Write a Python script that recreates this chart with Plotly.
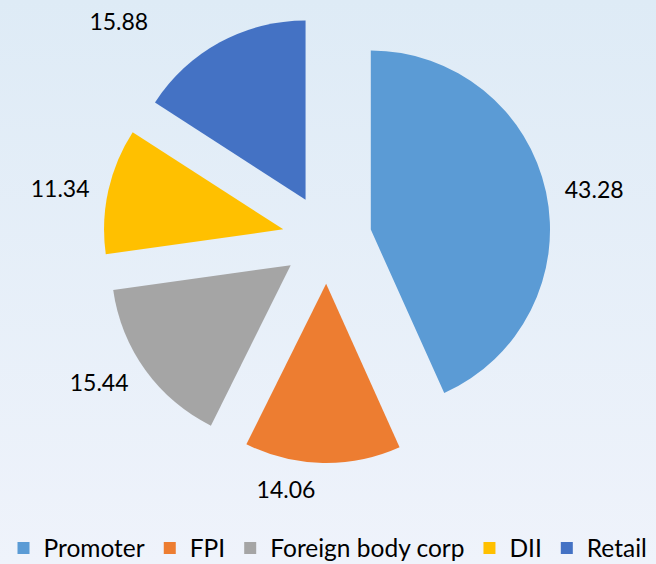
import base64
import plotly.graph_objects as go

categories = ["Promoter", "FPI", "Foreign body corp", "DII", "Retail"]
values = [43.28, 14.06, 15.44, 11.34, 15.88]
colors = ["#5B9BD5", "#ED7D31", "#A5A5A5", "#FFC000", "#4472C4"]
text_labels = ["43.28", "14.06", "15.44", "11.34", "15.88"]

W, H = 656, 564
FONT = "Lato, Open Sans, sans-serif"

# pie centre / radii in pixels (layout only)
CX, CY = 327, 239
HALF_MAIN = 224     # radius*(1+pull) for the drawn pie
HALF_LABEL = 236    # radius of the invisible label carrier

# trailing non-breaking spaces nudge the Retail label leftwards, like the original
label_pad = ["", "", "", "", "\u00a0" * 10]
shown_text = [t + p for t, p in zip(text_labels, label_pad)]


def dom(half):
    return dict(x=[(CX - half) / W, (CX + half) / W],
                y=[1 - (CY + half) / H, 1 - (CY - half) / H])


fig = go.Figure()
fig.add_trace(go.Pie(
    labels=categories,
    values=values,
    textinfo="none",
    sort=False,
    direction="clockwise",
    rotation=0,
    pull=[0.25] * len(values),
    marker=dict(colors=colors, line=dict(width=0)),
    domain=dom(HALF_MAIN),
    showlegend=True,
))
# transparent copy that only carries the outside value labels
fig.add_trace(go.Pie(
    labels=categories,
    values=values,
    text=shown_text,
    textinfo="text",
    textposition="outside",
    sort=False,
    direction="clockwise",
    rotation=0,
    marker=dict(colors=["rgba(0,0,0,0)"] * len(values), line=dict(width=0)),
    outsidetextfont=dict(family=FONT, size=23, color="#000000"),
    domain=dom(HALF_LABEL),
    showlegend=False,
    hoverinfo="skip",
))

svg = (
    '<svg xmlns="http://www.w3.org/2000/svg" width="656" height="564" preserveAspectRatio="none">'
    '<defs><linearGradient id="g" x1="0" y1="0" x2="0" y2="1">'
    '<stop offset="0" stop-color="#DEEBF6"/>'
    '<stop offset="1" stop-color="#EFF3FB"/>'
    '</linearGradient></defs>'
    '<rect width="656" height="564" fill="url(#g)"/></svg>'
)
src = "data:image/svg+xml;base64," + base64.b64encode(svg.encode()).decode()

fig.update_layout(
    width=W, height=H,
    margin=dict(l=0, r=0, t=0, b=0, autoexpand=False),
    paper_bgcolor="#E7EFF8",
    plot_bgcolor="rgba(0,0,0,0)",
    font=dict(family=FONT, size=23, color="#000000"),
    images=[dict(
        source=src, xref="paper", yref="paper",
        x=0, y=1, sizex=1, sizey=1,
        xanchor="left", yanchor="top", sizing="stretch", layer="below",
    )],
    legend=dict(
        orientation="h",
        xref="container", yref="container",
        x=0.5, xanchor="center", y=1 - 548 / H, yanchor="middle",
        font=dict(family=FONT, size=24.5, color="#000000"),
        bgcolor="rgba(0,0,0,0)",
        itemwidth=30,
        tracegroupgap=0,
    ),
)

fig.write_html("out.html", config={"displayModeBar": False},
               post_script="document.body.style.margin='0';")
